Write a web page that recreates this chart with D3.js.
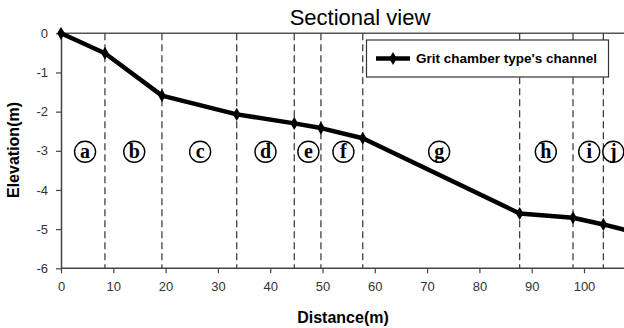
<!DOCTYPE html>
<html>
<head>
<meta charset="utf-8">
<script src="https://cdn.jsdelivr.net/npm/d3@7"></script>
<style>
  body { margin: 0; background: #fff; }
  svg { display: block; font-family: "Liberation Sans", Arial, sans-serif; }
  .tick text { fill: #333; font-size: 13px; }
</style>
</head>
<body>
<div class="chart"></div>
<script>
// channel profile
var distance  = [0, 8.4, 19.3, 33.6, 44.6, 49.7, 57.7, 87.7, 97.9, 103.7, 108.5];
var elevation = [0, -0.51, -1.59, -2.07, -2.3, -2.42, -2.68, -4.6, -4.71, -4.88, -5.04];
// section boundaries (dashed)
var bounds = [8.4, 19.3, 33.6, 44.6, 49.7, 57.7, 87.7, 97.9, 103.7];
var sections = ["a", "b", "c", "d", "e", "f", "g", "h", "i", "j"];
var sectionX = [4.6, 14, 26.6, 39.1, 47.3, 54, 72.3, 92.7, 101, 105.6];
var sectionY = -3;
var xTicks = [0, 10, 20, 30, 40, 50, 60, 70, 80, 90, 100];
var yTicks = [0, -1, -2, -3, -4, -5, -6];

var W = 624, H = 328;
var plotLeft = 61, plotTop = 33.3, plotBottom = 268.3;

var x = d3.scaleLinear().domain([0, 108]).range([plotLeft, plotLeft + 108 * 5.23]);
var y = d3.scaleLinear().domain([-6, 0]).range([plotBottom, plotTop]);

var svg = d3.select(".chart").append("svg")
  .attr("width", W).attr("height", H);

svg.append("clipPath").attr("id", "clip")
  .append("rect").attr("x", plotLeft - 6).attr("y", plotTop - 6)
  .attr("width", W - plotLeft + 6).attr("height", plotBottom - plotTop + 12);

// title
svg.append("text")
  .attr("x", 360).attr("y", 25)
  .attr("text-anchor", "middle")
  .style("font-size", "22px")
  .text("Sectional view");

// top frame line
svg.append("line")
  .attr("x1", plotLeft).attr("x2", W)
  .attr("y1", plotTop).attr("y2", plotTop)
  .attr("stroke", "#555").attr("stroke-width", 1.5);

// dashed section lines
svg.append("g").selectAll("line")
  .data(bounds)
  .enter().append("line")
    .attr("x1", function(d) { return x(d); })
    .attr("x2", function(d) { return x(d); })
    .attr("y1", plotTop).attr("y2", plotBottom)
    .attr("stroke", "#333")
    .attr("stroke-width", 1.2)
    .attr("stroke-dasharray", "7,4");

// axes
var xA = svg.append("g")
  .attr("transform", "translate(0," + plotBottom + ")")
  .call(d3.axisBottom(x).tickValues(xTicks).tickSize(5).tickSizeOuter(0));
var yA = svg.append("g")
  .attr("transform", "translate(" + plotLeft + ",0)")
  .call(d3.axisLeft(y).tickValues(yTicks).tickSize(5).tickSizeOuter(0)
    .tickFormat(function(d) { return String(d); }));
xA.select(".domain").attr("stroke", "#444").attr("stroke-width", 1.5)
  .attr("d", "M" + plotLeft + ",0H" + W);
yA.select(".domain").attr("stroke", "#444").attr("stroke-width", 1.5);
xA.selectAll(".tick line").attr("stroke", "#444").attr("stroke-width", 1.2);
yA.selectAll(".tick line").attr("stroke", "#444").attr("stroke-width", 1.2);
xA.selectAll(".tick text").attr("dy", "1.1em");
yA.selectAll(".tick text").attr("x", -13);

// section labels
var lab = svg.append("g").selectAll("g")
  .data(sections)
  .enter().append("g")
    .attr("transform", function(d, i) { return "translate(" + x(sectionX[i]) + "," + (y(sectionY) + 1) + ")"; });
lab.append("circle")
  .attr("r", 10.5)
  .attr("fill", "#fff")
  .attr("stroke", "#000")
  .attr("stroke-width", 1.4);
lab.append("text")
  .attr("text-anchor", "middle")
  .attr("dy", "0.33em")
  .style("font-family", "'Liberation Serif', serif")
  .style("font-weight", "bold")
  .style("font-size", "20px")
  .text(function(d) { return d; });

// profile line
var pts = distance.map(function(d, i) { return [d, elevation[i]]; });
var line = d3.line()
  .x(function(d) { return x(d[0]); })
  .y(function(d) { return y(d[1]); });
var prof = svg.append("g").attr("clip-path", "url(#clip)");
prof.append("path")
  .datum(pts)
  .attr("d", line)
  .attr("fill", "none")
  .attr("stroke", "#000")
  .attr("stroke-width", 4.5)
  .attr("stroke-linejoin", "round");
prof.selectAll(".pt")
  .data(pts)
  .enter().append("path")
    .attr("class", "pt")
    .attr("transform", function(d) { return "translate(" + x(d[0]) + "," + y(d[1]) + ")"; })
    .attr("d", d3.symbol().type(d3.symbolDiamond).size(50))
    .attr("fill", "#000");

// legend
var lg = svg.append("g");
lg.append("rect")
  .attr("x", 366.5).attr("y", 40)
  .attr("width", 242).attr("height", 37)
  .attr("fill", "#fff").attr("stroke", "#333").attr("stroke-width", 1.2);
lg.append("line")
  .attr("x1", 376).attr("x2", 410)
  .attr("y1", 58.5).attr("y2", 58.5)
  .attr("stroke", "#000").attr("stroke-width", 4.5);
lg.append("path")
  .attr("transform", "translate(393,58.5)")
  .attr("d", d3.symbol().type(d3.symbolDiamond).size(50))
  .attr("fill", "#000");
lg.append("text")
  .attr("x", 416).attr("y", 63)
  .style("font-weight", "bold")
  .style("font-size", "13.5px")
  .text("Grit chamber type's channel");

// axis titles
svg.append("text")
  .attr("x", 343).attr("y", 323)
  .attr("text-anchor", "middle")
  .style("font-weight", "bold")
  .style("font-size", "16px")
  .text("Distance(m)");
svg.append("text")
  .attr("transform", "translate(19,150) rotate(-90)")
  .attr("text-anchor", "middle")
  .style("font-weight", "bold")
  .style("font-size", "16px")
  .text("Elevation(m)");
</script>
</body>
</html>
